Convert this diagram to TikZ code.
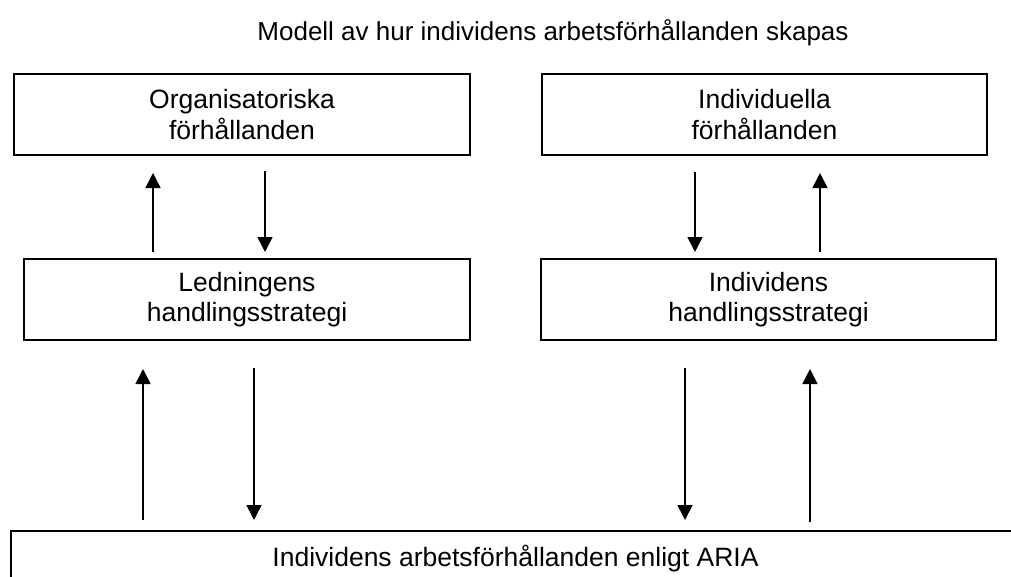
\documentclass[tikz,border=0pt]{standalone}
\usepackage{fontspec}
\setmainfont{Liberation Sans}
\usetikzlibrary{arrows.meta}
\begin{document}
\begin{tikzpicture}[x=1pt,y=-1pt,
  box/.style={draw=black,line width=2pt,rectangle,minimum height=81pt,inner sep=0pt,align=center,
    font=\fontsize{26.5}{30.5}\selectfont},
  txt/.style={inner sep=0pt,font=\fontsize{26.5}{30.5}\selectfont},
  arr/.style={line width=1.6pt,-{Triangle[width=15pt,length=15pt]}}]
\useasboundingbox (0,0) rectangle (1011,576);
\node[txt,anchor=base,font=\fontsize{26}{30}\selectfont] (title) at (553,40) {Modell av hur individens arbetsförhållanden skapas};
\node[box,minimum width=456pt] (tl) at (242,114.5) {Organisatoriska\\förhållanden};
\node[box,minimum width=445pt] (tr) at (764.5,114.5) {Individuella\\förhållanden};
\node[box,minimum width=446pt] (ml) at (247,299.5) {Ledningens\\handlingsstrategi};
\node[box,minimum width=455pt] (mr) at (768.5,299.5) {Individens\\handlingsstrategi};
\node[txt,anchor=base] (bot) at (515.5,566) {Individens arbetsförhållanden enligt ARIA};
\coordinate (botTop) at (11,531);
\draw[line width=2pt] (11,580) -- (botTop) -- (1015,531);
\coordinate (c1) at (153,0);
\coordinate (c2) at (265,0);
\coordinate (c3) at (695,0);
\coordinate (c4) at (820,0);
\coordinate (c5) at (143,0);
\coordinate (c6) at (254,0);
\coordinate (c7) at (685,0);
\coordinate (c8) at (810,0);
\draw[arr] ([yshift=6pt]ml.north -| c1) -- ([yshift=-17pt]tl.south -| c1);
\draw[arr] ([yshift=-15pt]tl.south -| c2) -- ([yshift=6pt]ml.north -| c2);
\draw[arr] ([yshift=-16pt]tr.south -| c3) -- ([yshift=6pt]mr.north -| c3);
\draw[arr] ([yshift=6pt]mr.north -| c4) -- ([yshift=-17pt]tr.south -| c4);
\draw[arr] ([yshift=11pt]botTop -| c5) -- ([yshift=-28pt]ml.south -| c5);
\draw[arr] ([yshift=-27pt]ml.south -| c6) -- ([yshift=11pt]botTop -| c6);
\draw[arr] ([yshift=-27pt]mr.south -| c7) -- ([yshift=11pt]botTop -| c7);
\draw[arr] ([yshift=9pt]botTop -| c8) -- ([yshift=-28pt]mr.south -| c8);
\end{tikzpicture}
\end{document}
